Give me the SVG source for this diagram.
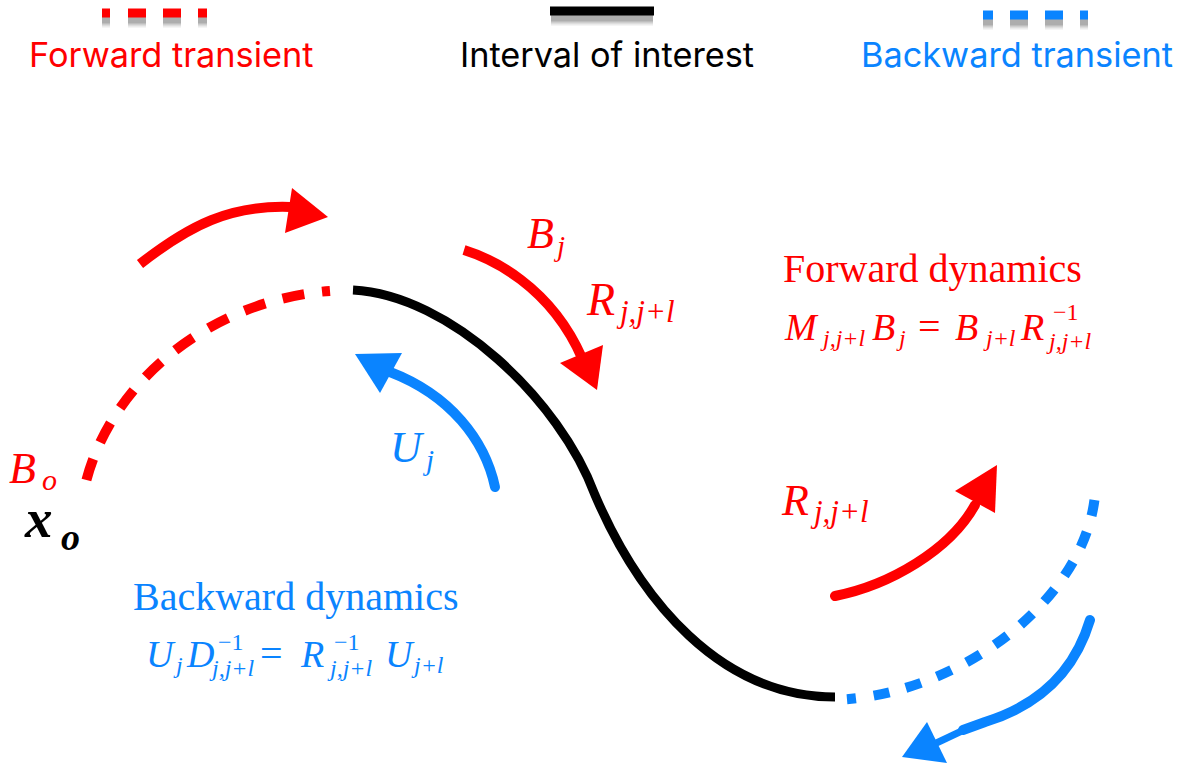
<svg xmlns="http://www.w3.org/2000/svg" width="1189" height="767" viewBox="0 0 1189 767">
<style>
.leg{font-family:Inter,"Liberation Sans",sans-serif;font-size:34.3px}
.m{font-family:"Liberation Serif",serif;font-style:italic}
.up{font-style:normal}
.red{fill:#ff0000}
.blue{fill:#0a84ff}
.blk{fill:#000}
.sr{stroke:#ff0000;fill:none}
.sb{stroke:#0a84ff;fill:none}
.s1{stroke:#000;stroke-width:15;fill:none;opacity:0.08}
.s2{stroke:#000;stroke-width:11;fill:none;opacity:0.12}
.s3{stroke:#000;stroke-width:7;fill:none;opacity:0.16}
</style>
<rect width="1189" height="767" fill="#fff"/>
<g id="legend">
<g stroke-dasharray="8 18 18 17 18 17 9 50">
<path class="s1" d="M102 20 H207"/><path class="s2" d="M102 20 H207"/><path class="s3" d="M102 20 H207"/>
</g>
<path d="M102 13 H207" stroke="#ff0000" stroke-width="9" stroke-dasharray="8 18 18 17 18 17 9 50"/>
<text class="leg red" x="29" y="67">Forward transient</text>
<path class="s1" d="M551 18 H653"/><path class="s2" d="M551 18 H653"/><path class="s3" d="M551 18 H653"/>
<path d="M550 11 H654" stroke="#000" stroke-width="9"/>
<text class="leg blk" x="607" y="67" text-anchor="middle">Interval of interest</text>
<g stroke-dasharray="10 17 18 17 18 17 8 50">
<path class="s1" d="M983 22 H1089"/><path class="s2" d="M983 22 H1089"/><path class="s3" d="M983 22 H1089"/>
</g>
<path d="M983 15 H1089" stroke="#0a84ff" stroke-width="9" stroke-dasharray="10 17 18 17 18 17 8 50"/>
<text class="leg blue" x="861" y="67">Backward transient</text>
</g>
<g id="trajectory">
<path class="sr" d="M353 290 C220 290,105 380,83 495" stroke-width="10" stroke-dasharray="0 23 8 18 22 18 22 18 22 18 22 18 22 18 22 18 22 18 22 18 22 18 22 18 22 18"/>
<path d="M353 290 C450 295,560 400,595 495 C640 600,720 697,835 697" stroke="#000" stroke-width="9" fill="none"/>
<path class="sb" d="M835 700 C960 695,1085 600,1095 495" stroke-width="10" stroke-dasharray="0 12 9 18 16 17 16 17 16 17 16 17 16 17 16 17 16 17 16 17 16 17 16 17 16 17"/>
</g>
<g id="connectors">
<path class="sr" d="M140 264 C190 225,230 205,290 207" stroke-width="10"/>
<polygon class="red" points="292,188 328,217 285,233"/>
<path class="sr" d="M464 250 C490 258,550 285,582 358" stroke-width="10"/>
<polygon class="red" points="560,363 603,345 597,390"/>
<path class="sb" d="M495 487 C485 440,450 395,390 372" stroke-width="10" stroke-linecap="round"/>
<polygon class="blue" points="355,354 402,353 380,393"/>
<path class="sr" d="M835 596 C890 585,950 550,975 505" stroke-width="10" stroke-linecap="round"/>
<polygon class="red" points="997,465 955,491 995,513"/>
<path class="sb" d="M1090 620 C1075 670,1040 705,985 722 L963 730" stroke-width="10" stroke-linecap="round"/>
<path class="sb" d="M966 729 L930 746" stroke-width="7"/>
<polygon class="blue" points="902,757 927,722 947,763"/>
</g>
<g id="labels">
<text class="m red" font-size="44"><tspan x="527" y="248">B</tspan><tspan x="557" y="256" font-size="29">j</tspan></text>
<text class="m red" font-size="46"><tspan x="587" y="315">R</tspan><tspan x="620" y="322" font-size="31">j,j+l</tspan></text>
<text class="m red" font-size="44"><tspan x="782" y="515">R</tspan><tspan x="814" y="522" font-size="31">j,j+l</tspan></text>
<text class="m blue" font-size="44"><tspan x="390" y="462">U</tspan><tspan x="426" y="470" font-size="29">j</tspan></text>
<text class="m red" font-size="44"><tspan x="9" y="483">B</tspan><tspan x="42" y="490" font-size="30">o</tspan></text>
<text class="m blk" font-size="55" font-weight="bold"><tspan x="25" y="537">x</tspan><tspan x="61" y="550" font-size="38">o</tspan></text>
</g>
<g id="forward-dynamics">
<text x="783" y="282" font-family="Liberation Serif,serif" font-size="40" class="red">Forward dynamics</text>
<text class="m red" font-size="38"><tspan x="785" y="340">M</tspan><tspan x="823" y="346" font-size="24">j,j+l</tspan><tspan x="872" y="340">B</tspan><tspan x="899" y="346" font-size="24">j</tspan><tspan x="918" y="340" class="up" font-size="40">=</tspan><tspan x="955" y="340">B</tspan><tspan x="986" y="346" font-size="24">j+l</tspan><tspan x="1021" y="340">R</tspan><tspan x="1053" y="320" font-size="24" class="up">−1</tspan><tspan x="1049" y="349" font-size="24">j,j+l</tspan></text>
</g>
<g id="backward-dynamics">
<text x="133" y="610" font-family="Liberation Serif,serif" font-size="40" class="blue">Backward dynamics</text>
<text class="m blue" font-size="38"><tspan x="146" y="667">U</tspan><tspan x="176" y="673" font-size="24">j</tspan><tspan x="187" y="667">D</tspan><tspan x="218" y="650" font-size="24" class="up">−1</tspan><tspan x="212" y="676" font-size="24">j,j+l</tspan><tspan x="260" y="667" class="up" font-size="40">=</tspan><tspan x="301" y="667">R</tspan><tspan x="334" y="650" font-size="24" class="up">−1</tspan><tspan x="330" y="676" font-size="24">j,j+l</tspan><tspan x="385" y="667">U</tspan><tspan x="414" y="673" font-size="24">j+l</tspan></text>
</g>
</svg>
